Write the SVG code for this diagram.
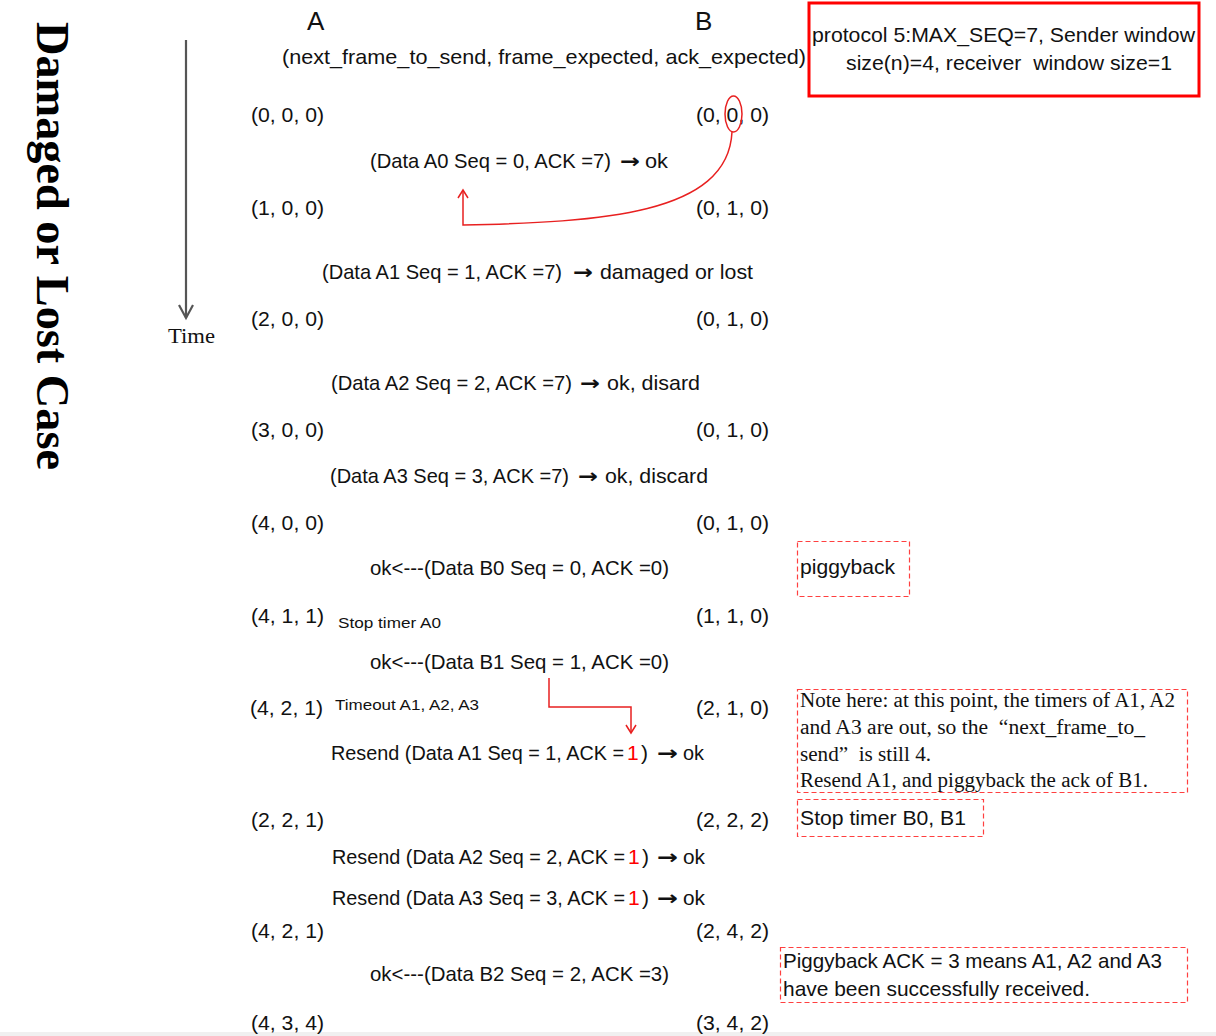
<svg xmlns="http://www.w3.org/2000/svg" width="1216" height="1036" viewBox="0 0 1216 1036">
<style>
.s{font-family:"Liberation Sans",Arial,sans-serif;font-size:21px;fill:#111}
.rs{font-size:19.7px}
.ms{font-size:19.8px}
.sm{font-family:"Liberation Sans",Arial,sans-serif;font-size:15px;fill:#111}
.hd{font-family:"Liberation Sans",Arial,sans-serif;font-size:26px;fill:#111}
.tm{font-family:"Liberation Serif","Times New Roman",serif;font-size:20px;fill:#111}
.ar{font-family:"DejaVu Sans",sans-serif;font-weight:bold;font-size:20px;fill:#111}
.title{font-family:"Liberation Serif","Times New Roman",serif;font-size:46px;font-weight:bold;fill:#000}
.r{fill:#ff0000}
.dbox{fill:none;stroke:#ff4040;stroke-width:1.2;stroke-dasharray:5,3}
.conn{fill:none;stroke:#e82020;stroke-width:1.5}
</style>
<rect x="0" y="0" width="1216" height="1036" fill="#ffffff"/>
<rect x="0" y="1032" width="1216" height="4" fill="#f0f0f0"/>

<g id="title"><text class="title" transform="translate(37,22) rotate(90)" textLength="448" lengthAdjust="spacingAndGlyphs">Damaged or Lost Case</text></g>

<g id="time-axis">
<line x1="186" y1="40" x2="186" y2="318" stroke="#555" stroke-width="2.2"/>
<polyline points="179,305 186,318 193,305" fill="none" stroke="#555" stroke-width="2.2"/>
<text class="tm" x="168" y="343" font-size="22" textLength="47" lengthAdjust="spacingAndGlyphs">Time</text>
</g>

<g id="header">
<text class="hd" x="307" y="30">A</text>
<text class="hd" x="695" y="30">B</text>
<text class="s" x="282" y="64" textLength="524" lengthAdjust="spacingAndGlyphs">(next_frame_to_send, frame_expected, ack_expected)</text>
</g>

<g id="protocol-box">
<rect x="809" y="3" width="390" height="93" fill="none" stroke="#ff0000" stroke-width="3"/>
<text class="s" x="812" y="42" textLength="383" lengthAdjust="spacingAndGlyphs">protocol 5:MAX_SEQ=7, Sender window</text>
<text class="s" x="846" y="70" textLength="326" lengthAdjust="spacingAndGlyphs" xml:space="preserve">size(n)=4, receiver  window size=1</text>
</g>

<g id="states-A">
<text class="s" x="251" y="122" textLength="73" lengthAdjust="spacingAndGlyphs">(0, 0, 0)</text>
<text class="s" x="251" y="215" textLength="73" lengthAdjust="spacingAndGlyphs">(1, 0, 0)</text>
<text class="s" x="251" y="326" textLength="73" lengthAdjust="spacingAndGlyphs">(2, 0, 0)</text>
<text class="s" x="251" y="437" textLength="73" lengthAdjust="spacingAndGlyphs">(3, 0, 0)</text>
<text class="s" x="251" y="530" textLength="73" lengthAdjust="spacingAndGlyphs">(4, 0, 0)</text>
<text class="s" x="251" y="623" textLength="73" lengthAdjust="spacingAndGlyphs">(4, 1, 1)</text>
<text class="s" x="250" y="715" textLength="73" lengthAdjust="spacingAndGlyphs">(4, 2, 1)</text>
<text class="s" x="251" y="827" textLength="73" lengthAdjust="spacingAndGlyphs">(2, 2, 1)</text>
<text class="s" x="251" y="938" textLength="73" lengthAdjust="spacingAndGlyphs">(4, 2, 1)</text>
<text class="s" x="251" y="1030" textLength="73" lengthAdjust="spacingAndGlyphs">(4, 3, 4)</text>
</g>

<g id="states-B">
<text class="s" x="696" y="122" textLength="73" lengthAdjust="spacingAndGlyphs">(0, 0, 0)</text>
<text class="s" x="696" y="215" textLength="73" lengthAdjust="spacingAndGlyphs">(0, 1, 0)</text>
<text class="s" x="696" y="326" textLength="73" lengthAdjust="spacingAndGlyphs">(0, 1, 0)</text>
<text class="s" x="696" y="437" textLength="73" lengthAdjust="spacingAndGlyphs">(0, 1, 0)</text>
<text class="s" x="696" y="530" textLength="73" lengthAdjust="spacingAndGlyphs">(0, 1, 0)</text>
<text class="s" x="696" y="623" textLength="73" lengthAdjust="spacingAndGlyphs">(1, 1, 0)</text>
<text class="s" x="696" y="715" textLength="73" lengthAdjust="spacingAndGlyphs">(2, 1, 0)</text>
<text class="s" x="696" y="827" textLength="73" lengthAdjust="spacingAndGlyphs">(2, 2, 2)</text>
<text class="s" x="696" y="938" textLength="73" lengthAdjust="spacingAndGlyphs">(2, 4, 2)</text>
<text class="s" x="696" y="1030" textLength="73" lengthAdjust="spacingAndGlyphs">(3, 4, 2)</text>
</g>

<g id="msg-A0">
<text class="s ms" x="370" y="168" textLength="241" lengthAdjust="spacingAndGlyphs">(Data A0 Seq = 0, ACK =7)</text>
<text class="ar" x="620" y="168" textLength="20" lengthAdjust="spacingAndGlyphs">→</text>
<text class="s" x="645" y="168" textLength="23" lengthAdjust="spacingAndGlyphs">ok</text>
</g>
<g id="msg-A1">
<text class="s ms" x="322" y="279" textLength="240" lengthAdjust="spacingAndGlyphs">(Data A1 Seq = 1, ACK =7)</text>
<text class="ar" x="573" y="279" textLength="20" lengthAdjust="spacingAndGlyphs">→</text>
<text class="s" x="600" y="279" textLength="153" lengthAdjust="spacingAndGlyphs">damaged or lost</text>
</g>
<g id="msg-A2">
<text class="s ms" x="331" y="390" textLength="241" lengthAdjust="spacingAndGlyphs">(Data A2 Seq = 2, ACK =7)</text>
<text class="ar" x="580" y="390" textLength="20" lengthAdjust="spacingAndGlyphs">→</text>
<text class="s" x="607" y="390" textLength="93" lengthAdjust="spacingAndGlyphs">ok, disard</text>
</g>
<g id="msg-A3">
<text class="s ms" x="330" y="483" textLength="239" lengthAdjust="spacingAndGlyphs">(Data A3 Seq = 3, ACK =7)</text>
<text class="ar" x="578" y="483" textLength="20" lengthAdjust="spacingAndGlyphs">→</text>
<text class="s" x="605" y="483" textLength="103" lengthAdjust="spacingAndGlyphs">ok, discard</text>
</g>
<g id="msg-B0">
<text class="s" x="370" y="575" textLength="299" lengthAdjust="spacingAndGlyphs">ok&lt;---(Data B0 Seq = 0, ACK =0)</text>
<text class="sm" x="338" y="628" textLength="103" lengthAdjust="spacingAndGlyphs">Stop timer A0</text>
</g>
<g id="msg-B1">
<text class="s" x="370" y="669" textLength="299" lengthAdjust="spacingAndGlyphs">ok&lt;---(Data B1 Seq = 1, ACK =0)</text>
<text class="sm" x="335" y="710" textLength="144" lengthAdjust="spacingAndGlyphs">Timeout A1, A2, A3</text>
</g>
<g id="msg-resend-A1">
<text class="s rs" x="331" y="760" textLength="293" lengthAdjust="spacingAndGlyphs">Resend (Data A1 Seq = 1, ACK =</text>
<text class="s r" x="627" y="760">1</text>
<text class="s" x="641" y="760">)</text>
<text class="ar" x="657" y="760" textLength="21" lengthAdjust="spacingAndGlyphs">→</text>
<text class="s" x="683" y="760" textLength="21" lengthAdjust="spacingAndGlyphs">ok</text>
</g>
<g id="msg-resend-A2">
<text class="s rs" x="332" y="864" textLength="293" lengthAdjust="spacingAndGlyphs">Resend (Data A2 Seq = 2, ACK =</text>
<text class="s r" x="628" y="864">1</text>
<text class="s" x="642" y="864">)</text>
<text class="ar" x="657" y="864" textLength="21" lengthAdjust="spacingAndGlyphs">→</text>
<text class="s" x="683" y="864" textLength="22" lengthAdjust="spacingAndGlyphs">ok</text>
</g>
<g id="msg-resend-A3">
<text class="s rs" x="332" y="905" textLength="293" lengthAdjust="spacingAndGlyphs">Resend (Data A3 Seq = 3, ACK =</text>
<text class="s r" x="628" y="905">1</text>
<text class="s" x="642" y="905">)</text>
<text class="ar" x="657" y="905" textLength="21" lengthAdjust="spacingAndGlyphs">→</text>
<text class="s" x="683" y="905" textLength="22" lengthAdjust="spacingAndGlyphs">ok</text>
</g>
<g id="msg-B2">
<text class="s" x="370" y="981" textLength="299" lengthAdjust="spacingAndGlyphs">ok&lt;---(Data B2 Seq = 2, ACK =3)</text>
</g>

<g id="note-piggyback">
<rect class="dbox" x="797.5" y="541.5" width="112" height="55"/>
<text class="s" x="800" y="574" textLength="95" lengthAdjust="spacingAndGlyphs">piggyback</text>
</g>

<g id="note-timers">
<rect class="dbox" x="797.5" y="689.5" width="390" height="103"/>
<text class="tm" x="800" y="707" textLength="375" lengthAdjust="spacingAndGlyphs">Note here: at this point, the timers of A1, A2</text>
<text class="tm" x="800" y="734" textLength="345" lengthAdjust="spacingAndGlyphs" xml:space="preserve">and A3 are out, so the  “next_frame_to_</text>
<text class="tm" x="800" y="761" textLength="131" lengthAdjust="spacingAndGlyphs" xml:space="preserve">send”  is still 4.</text>
<text class="tm" x="800" y="787" textLength="348" lengthAdjust="spacingAndGlyphs">Resend A1, and piggyback the ack of B1.</text>
</g>

<g id="note-stop">
<rect class="dbox" x="797.5" y="799.5" width="186" height="37"/>
<text class="s" x="800" y="825" textLength="166" lengthAdjust="spacingAndGlyphs">Stop timer B0, B1</text>
</g>

<g id="note-ack">
<rect class="dbox" x="780.5" y="947.5" width="407" height="55"/>
<text class="s" x="783" y="968" textLength="379" lengthAdjust="spacingAndGlyphs">Piggyback ACK = 3 means A1, A2 and A3</text>
<text class="s" x="783" y="996" textLength="307" lengthAdjust="spacingAndGlyphs">have been successfully received.</text>
</g>

<g id="connectors">
<ellipse class="conn" cx="733.5" cy="114" rx="8.5" ry="18"/>
<path class="conn" d="M732,132 C728,215 600,222 463,225 V191"/>
<polyline class="conn" points="458,198 463,190 468,198"/>
<path class="conn" d="M549,678 V707 H631 V733"/>
<polyline class="conn" points="626,725 631,733 636,725"/>
</g>
</svg>
